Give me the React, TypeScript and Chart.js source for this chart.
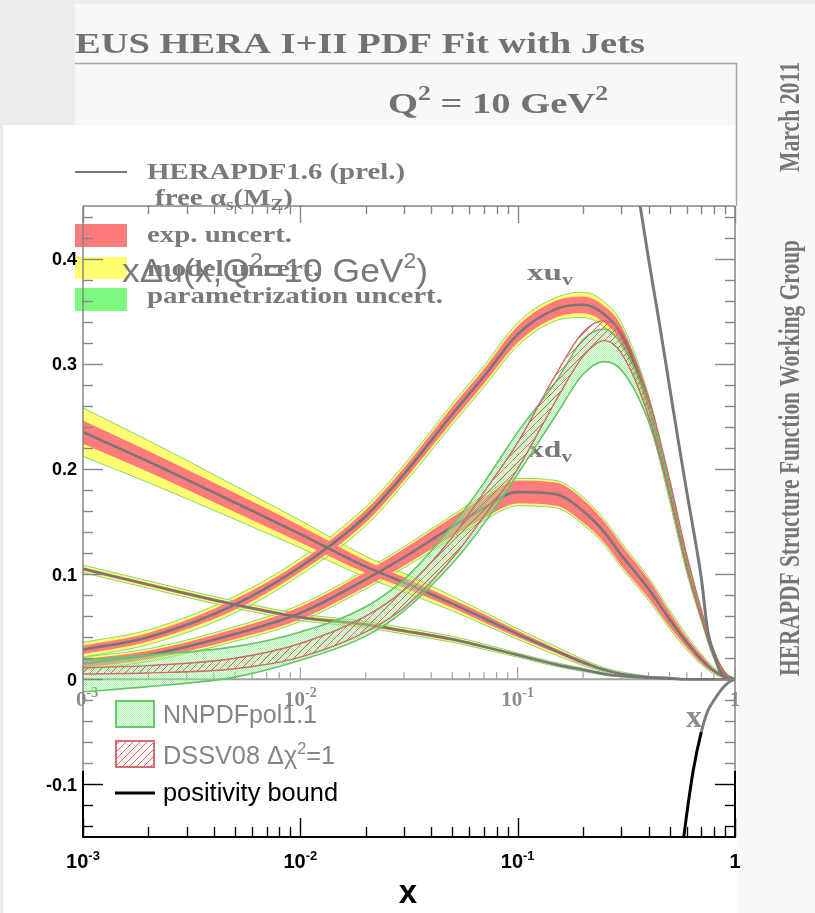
import React, { useEffect, useRef } from "react";
import { Chart, registerables } from "chart.js";
Chart.register(...registerables);

// ---------- data ----------
const X_GRID = [0.001, 0.002, 0.005, 0.01, 0.02, 0.03, 0.05, 0.07, 0.1, 0.15, 0.2, 0.25, 0.3, 0.4, 0.5, 0.6, 0.7, 0.8, 0.9, 1];

// HERAPDF1.6 xu_v
const XUV_CENTER = [0.028, 0.040, 0.071, 0.107, 0.155, 0.195, 0.252, 0.288, 0.328, 0.352, 0.356, 0.347, 0.328, 0.26, 0.178, 0.108, 0.06, 0.023, 0.005, 0];
const XUV_EXP = [0.004, 0.004, 0.005, 0.005, 0.006, 0.006, 0.007, 0.007, 0.008, 0.008, 0.008, 0.008, 0.008, 0.007, 0.006, 0.005, 0.004, 0.003, 0.001, 0];
const XUV_TOT = [0.007, 0.007, 0.008, 0.008, 0.009, 0.009, 0.010, 0.010, 0.011, 0.011, 0.012, 0.012, 0.011, 0.010, 0.009, 0.007, 0.005, 0.004, 0.002, 0];
// HERAPDF1.6 xd_v
const XDV_CENTER = [0.015, 0.023, 0.043, 0.063, 0.095, 0.116, 0.145, 0.163, 0.178, 0.176, 0.16, 0.14, 0.118, 0.086, 0.057, 0.035, 0.019, 0.008, 0.002, 0];
const XDV_EXP = [0.004, 0.004, 0.005, 0.006, 0.007, 0.008, 0.009, 0.010, 0.011, 0.011, 0.011, 0.010, 0.010, 0.009, 0.007, 0.005, 0.004, 0.002, 0.001, 0];
const XDV_TOT = [0.006, 0.006, 0.007, 0.008, 0.009, 0.010, 0.011, 0.012, 0.013, 0.013, 0.013, 0.012, 0.012, 0.011, 0.009, 0.007, 0.005, 0.003, 0.001, 0];
// HERAPDF1.6 sea (upper)
const SEAA_CENTER = [0.235, 0.207, 0.168, 0.138, 0.107, 0.092, 0.072, 0.058, 0.043, 0.027, 0.016, 0.009, 0.005, 0.002, 0.001, 0, 0, 0, 0, 0];
const SEAA_EXP = [0.011, 0.010, 0.009, 0.008, 0.006, 0.005, 0.004, 0.004, 0.003, 0.002, 0.002, 0.001, 0.001, 0.001, 0, 0, 0, 0, 0, 0];
const SEAA_TOT = [0.023, 0.020, 0.016, 0.013, 0.010, 0.009, 0.007, 0.006, 0.005, 0.004, 0.003, 0.002, 0.002, 0.001, 0.001, 0, 0, 0, 0, 0];
// HERAPDF1.6 sea (lower)
const SEAB_CENTER = [0.105, 0.090, 0.071, 0.059, 0.052, 0.046, 0.038, 0.031, 0.023, 0.014, 0.009, 0.005, 0.003, 0.0015, 0.0005, 0, 0, 0, 0, 0];
const SEAB_EXP = [0.0015, 0.0015, 0.0015, 0.0015, 0.0015, 0.0015, 0.0015, 0.0012, 0.001, 0.001, 0.0008, 0.0005, 0.0004, 0.0002, 0, 0, 0, 0, 0, 0];
const SEAB_TOT = [0.0035, 0.0035, 0.0033, 0.0032, 0.003, 0.003, 0.0028, 0.0025, 0.002, 0.0018, 0.0015, 0.001, 0.0008, 0.0005, 0.0002, 0, 0, 0, 0, 0];

// NNPDFpol1.1 xΔu band
const NNPDF_UP = [0.018, 0.023, 0.031, 0.045, 0.069, 0.095, 0.146, 0.187, 0.235, 0.283, 0.323, 0.333, 0.319, 0.261, 0.185, 0.114, 0.064, 0.026, 0.006, 0];
const NNPDF_LO = [-0.012, -0.007, 0.002, 0.018, 0.041, 0.065, 0.11, 0.148, 0.195, 0.251, 0.29, 0.302, 0.294, 0.245, 0.175, 0.108, 0.061, 0.024, 0.004, 0];
// DSSV08 Δχ²=1 band
const DSSV_UP = [0.011, 0.013, 0.020, 0.034, 0.060, 0.085, 0.135, 0.178, 0.225, 0.29, 0.33, 0.341, 0.33, 0.268, 0.19, 0.118, 0.066, 0.027, 0.006, 0];
const DSSV_LO = [0.005, 0.006, 0.010, 0.021, 0.045, 0.068, 0.115, 0.155, 0.2, 0.265, 0.307, 0.322, 0.31, 0.25, 0.176, 0.107, 0.059, 0.023, 0.004, 0];

// positivity bound (negative branch)
const POS_X = [0.56, 0.6, 0.642, 0.7, 0.75, 0.8, 0.85, 0.9, 0.95, 1];
const POS_Y = [-0.175, -0.128, -0.087, -0.05, -0.03, -0.02, -0.012, -0.006, -0.002, 0];
// steep grey curve (upper)
const UPPER_X = [0.36, 0.4, 0.45, 0.5, 0.55, 0.6, 0.65, 0.7, 0.75, 0.8, 0.85, 0.9, 0.95, 1];
const UPPER_Y = [0.46, 0.40, 0.337, 0.278, 0.225, 0.178, 0.137, 0.096, 0.045, 0.024, 0.008, 0.002, 0.0005, 0];

// axes
const X_DECADES = [0.001, 0.01, 0.1, 1];
const X_DECADE_EXP = ["-3", "-2", "-1", ""];
const Y_TICKS = [-0.1, 0, 0.1, 0.2, 0.3, 0.4];
const Y_TICK_LABELS = ["-0.1", "0", "0.1", "0.2", "0.3", "0.4"];
const OVERLAY_V = -0.087; // lower edge of the greyed overlay

const SANS = '"Liberation Sans", Arial, Helvetica, sans-serif';
const SERIF = '"Liberation Serif", "Times New Roman", "DejaVu Serif", serif';

type Seg = { t: string; s?: "sup" | "sub" };
type RichOpts = { size: number; fam: string; weight?: string; color: string; align?: "left" | "center" | "right"; width?: number };

function drawRich(ctx: CanvasRenderingContext2D, segs: Seg[], x: number, y: number, o: RichOpts) {
  const w = o.weight || "normal";
  const fontFor = (s?: string) => `${w} ${s ? Math.round(o.size * 0.65) : o.size}px ${o.fam}`;
  const widths: number[] = [];
  let total = 0;
  for (const seg of segs) {
    ctx.font = fontFor(seg.s);
    const m = ctx.measureText(seg.t).width;
    widths.push(m);
    total += m;
  }
  const sx = o.width ? o.width / total : 1;
  const dw = total * sx;
  const x0 = o.align === "center" ? x - dw / 2 : o.align === "right" ? x - dw : x;
  ctx.save();
  ctx.translate(x0, y);
  ctx.scale(sx, 1);
  ctx.fillStyle = o.color;
  ctx.textAlign = "left";
  ctx.textBaseline = "alphabetic";
  let cx = 0;
  segs.forEach((seg, i) => {
    ctx.font = fontFor(seg.s);
    const dy = seg.s === "sup" ? -o.size * 0.42 : seg.s === "sub" ? o.size * 0.22 : 0;
    ctx.fillText(seg.t, cx, dy);
    cx += widths[i];
  });
  ctx.restore();
}

function line(ctx: CanvasRenderingContext2D, x1: number, y1: number, x2: number, y2: number) {
  ctx.beginPath();
  ctx.moveTo(x1, y1);
  ctx.lineTo(x2, y2);
  ctx.stroke();
}

function makeDots(): CanvasPattern {
  const c = document.createElement("canvas");
  c.width = 2;
  c.height = 2;
  const g = c.getContext("2d")!;
  g.fillStyle = "rgba(110,232,110,0.6)";
  g.fillRect(0, 0, 1, 1);
  g.fillRect(1, 1, 1, 1);
  g.fillStyle = "rgba(215,255,215,0.35)";
  g.fillRect(1, 0, 1, 1);
  g.fillRect(0, 1, 1, 1);
  return g.createPattern(c, "repeat")!;
}

function makeHatch(): CanvasPattern {
  const c = document.createElement("canvas");
  c.width = 7;
  c.height = 7;
  const g = c.getContext("2d")!;
  g.strokeStyle = "rgba(235,75,75,0.9)";
  g.lineWidth = 1;
  g.beginPath();
  g.moveTo(0, 7);
  g.lineTo(7, 0);
  g.moveTo(-2, 2);
  g.lineTo(2, -2);
  g.moveTo(5, 9);
  g.lineTo(9, 5);
  g.stroke();
  return g.createPattern(c, "repeat")!;
}

const pts = (xs: number[], ys: number[]) => xs.map((x, i) => ({ x, y: ys[i] }));

function band(xs: number[], up: number[], lo: number[], fill: any, border: string, bw: number, order: number) {
  return [
    { data: pts(xs, up), fill: "+1", backgroundColor: fill, borderColor: border, borderWidth: bw, order },
    { data: pts(xs, lo), fill: false, borderColor: border, borderWidth: bw, order: order - 0.5 },
  ];
}

function heraBands(center: number[], exp: number[], tot: number[]) {
  const add = (a: number[], s: number) => center.map((c, i) => c + s * a[i]);
  return {
    tot: band(X_GRID, add(tot, 1), add(tot, -1), "rgb(255,255,112)", "rgb(130,215,120)", 1, 60),
    exp: band(X_GRID, add(exp, 1), add(exp, -1), "rgb(255,124,124)", "rgba(0,0,0,0)", 0, 50),
    center: { data: pts(X_GRID, center), fill: false, borderColor: "rgb(118,118,118)", borderWidth: 2.5, order: 45 },
  };
}

function makePlugin(dots: CanvasPattern, hatch: CanvasPattern) {
  return {
    id: "decor",
    beforeDraw(chart: any) {
      const { ctx, chartArea: ca, scales } = chart;
      const xs = scales.x, ys = scales.y;
      ctx.save();
      ctx.fillStyle = "#ececec";
      ctx.fillRect(0, 0, chart.width, chart.height);
      ctx.fillStyle = "#f8f8f8";
      ctx.fillRect(75, 4, chart.width - 75, chart.height - 4);
      ctx.fillStyle = "#ffffff";
      ctx.fillRect(3, 125, 734, chart.height - 125);

      // HERAPDF frame
      ctx.strokeStyle = "#a6a6a6";
      ctx.lineWidth = 1.5;
      line(ctx, 75, 63.5, 737, 63.5);
      line(ctx, 736.5, 63, 736.5, ca.top);

      const G = "#727272";
      drawRich(ctx, [{ t: "EUS HERA I+II PDF Fit with Jets" }], 75, 53, { size: 30, fam: SERIF, weight: "bold", color: G, width: 570 });
      drawRich(ctx, [{ t: "Q" }, { t: "2", s: "sup" }, { t: " = 10 GeV" }, { t: "2", s: "sup" }], 388, 113, { size: 30, fam: SERIF, weight: "bold", color: G, width: 220 });

      const rot = (bx: number, cy: number, text: string, width: number) => {
        ctx.save();
        ctx.translate(bx, cy);
        ctx.rotate(-Math.PI / 2);
        drawRich(ctx, [{ t: text }], 0, 0, { size: 30, fam: SERIF, weight: "bold", color: "#767676", align: "center", width });
        ctx.restore();
      };
      rot(799, 117, "March 2011", 110);
      rot(799, 458, "HERAPDF Structure Function Working Group", 436);

      // HERAPDF legend
      ctx.strokeStyle = "#777";
      ctx.lineWidth = 2;
      line(ctx, 75, 172, 127, 172);
      const LG = "#7a7a7a";
      drawRich(ctx, [{ t: "HERAPDF1.6 (prel.)" }], 147, 179, { size: 24, fam: SERIF, weight: "bold", color: LG, width: 258 });
      drawRich(ctx, [{ t: "free \u03b1" }, { t: "s", s: "sub" }, { t: "(M" }, { t: "Z", s: "sub" }, { t: ")" }], 155, 205, { size: 24, fam: SERIF, weight: "bold", color: LG, width: 138 });
      ctx.fillStyle = "rgb(255,124,124)";
      ctx.fillRect(75, 224, 52, 23);
      ctx.fillStyle = "rgb(255,255,112)";
      ctx.fillRect(75, 257, 52, 22);
      ctx.fillStyle = "rgb(125,250,125)";
      ctx.fillRect(75, 288, 52, 23);
      drawRich(ctx, [{ t: "exp. uncert." }], 147, 242, { size: 24, fam: SERIF, weight: "bold", color: LG, width: 145 });
      drawRich(ctx, [{ t: "model uncert." }], 147, 276, { size: 24, fam: SERIF, weight: "bold", color: LG, width: 173 });
      drawRich(ctx, [{ t: "parametrization uncert." }], 147, 303, { size: 24, fam: SERIF, weight: "bold", color: LG, width: 296 });

      // curve labels
      drawRich(ctx, [{ t: "xu" }, { t: "v", s: "sub" }], 527, 280, { size: 24, fam: SERIF, weight: "bold", color: LG, width: 46 });
      drawRich(ctx, [{ t: "xd" }, { t: "v", s: "sub" }], 528, 457, { size: 24, fam: SERIF, weight: "bold", color: LG, width: 44 });

      // HERAPDF x axis (at y = 0)
      const y0 = ys.getPixelForValue(0);
      ctx.strokeStyle = "#a0a0a0";
      ctx.lineWidth = 2;
      line(ctx, ca.left, y0, ca.right, y0);
      ctx.lineWidth = 1.2;
      for (let d = -3; d <= 0; d++) {
        const px = xs.getPixelForValue(Math.pow(10, d));
        line(ctx, px, y0, px, y0 - 12);
        if (d < 0) {
          for (let m = 2; m <= 9; m++) {
            const p2 = xs.getPixelForValue(m * Math.pow(10, d));
            line(ctx, p2, y0, p2, y0 - 7);
          }
        }
      }
      const HG = "#8c8c8c";
      drawRich(ctx, [{ t: "0" }, { t: "-3", s: "sup" }], 76, 706, { size: 21, fam: SERIF, weight: "bold", color: HG });
      drawRich(ctx, [{ t: "10" }, { t: "-2", s: "sup" }], xs.getPixelForValue(0.01), 706, { size: 21, fam: SERIF, weight: "bold", color: HG, align: "center" });
      drawRich(ctx, [{ t: "10" }, { t: "-1", s: "sup" }], xs.getPixelForValue(0.1), 706, { size: 21, fam: SERIF, weight: "bold", color: HG, align: "center" });
      drawRich(ctx, [{ t: "1" }], xs.getPixelForValue(1), 706, { size: 21, fam: SERIF, weight: "bold", color: HG, align: "center" });
      drawRich(ctx, [{ t: "x" }], 694, 727, { size: 32, fam: SERIF, weight: "bold", color: HG, align: "center" });
      ctx.restore();
    },
    afterDatasetsDraw(chart: any) {
      const { ctx, chartArea: ca, scales } = chart;
      const xs = scales.x, ys = scales.y;
      const ov = ys.getPixelForValue(OVERLAY_V);
      const col = (py: number) => (py >= ov ? "#000000" : "#858585");
      ctx.save();
      ctx.lineCap = "butt";
      // frame
      ctx.lineWidth = 1.5;
      ctx.strokeStyle = "#858585";
      line(ctx, ca.left, ca.top, ca.right, ca.top);
      line(ctx, ca.left, ca.top, ca.left, ov);
      line(ctx, ca.right, ca.top, ca.right, ov);
      ctx.lineWidth = 2;
      ctx.strokeStyle = "#000";
      line(ctx, ca.left, ov, ca.left, ca.bottom);
      line(ctx, ca.right, ov, ca.right, ca.bottom);
      line(ctx, ca.left - 1, ca.bottom, ca.right + 1, ca.bottom);

      // y ticks
      ctx.lineWidth = 1.4;
      for (let i = -7; i <= 22; i++) {
        const v = i * 0.02;
        const py = Math.round(ys.getPixelForValue(v)) + 0.5;
        const len = i % 5 === 0 ? 20 : 10;
        ctx.strokeStyle = col(py);
        line(ctx, ca.left, py, ca.left + len, py);
        line(ctx, ca.right, py, ca.right - len, py);
      }
      // x ticks
      for (let d = -3; d <= 0; d++) {
        const px = Math.round(xs.getPixelForValue(Math.pow(10, d))) + 0.5;
        ctx.strokeStyle = "#000";
        line(ctx, px, ca.bottom, px, ca.bottom - 19);
        ctx.strokeStyle = "#858585";
        line(ctx, px, ca.top, px, ca.top + 17);
        if (d < 0) {
          for (let m = 2; m <= 9; m++) {
            const p2 = Math.round(xs.getPixelForValue(m * Math.pow(10, d))) + 0.5;
            ctx.strokeStyle = "#000";
            line(ctx, p2, ca.bottom, p2, ca.bottom - 10);
            ctx.strokeStyle = "#858585";
            line(ctx, p2, ca.top, p2, ca.top + 8);
          }
        }
      }
      // tick labels
      Y_TICKS.forEach((v, i) => {
        const py = ys.getPixelForValue(v);
        drawRich(ctx, [{ t: Y_TICK_LABELS[i] }], ca.left - 6, py + 6.5, { size: 18, fam: SANS, weight: "bold", color: "#000", align: "right" });
      });
      X_DECADES.forEach((v, i) => {
        const px = xs.getPixelForValue(v);
        const segs: Seg[] = X_DECADE_EXP[i] ? [{ t: "10" }, { t: X_DECADE_EXP[i], s: "sup" }] : [{ t: "1" }];
        drawRich(ctx, segs, px, 868, { size: 20, fam: SANS, weight: "bold", color: "#000", align: "center" });
      });
      drawRich(ctx, [{ t: "x" }], 408, 903, { size: 33, fam: SANS, weight: "bold", color: "#000", align: "center" });

      // title
      drawRich(
        ctx,
        [{ t: "x\u0394u(x,Q" }, { t: "2", s: "sup" }, { t: "=10 GeV" }, { t: "2", s: "sup" }, { t: ")" }],
        122, 282,
        { size: 34, fam: SANS, color: "#7a7a7a", width: 306 }
      );

      // legend
      ctx.fillStyle = "#fff";
      ctx.fillRect(115, 700, 40, 28);
      ctx.fillStyle = dots;
      ctx.fillRect(115, 700, 40, 28);
      ctx.strokeStyle = "rgb(105,200,105)";
      ctx.lineWidth = 2;
      ctx.strokeRect(116, 701, 38, 26);
      ctx.fillStyle = "#fff";
      ctx.fillRect(115, 740, 40, 28);
      ctx.fillStyle = hatch;
      ctx.fillRect(115, 740, 40, 28);
      ctx.strokeStyle = "rgb(210,110,110)";
      ctx.strokeRect(116, 741, 38, 26);
      ctx.strokeStyle = "#000";
      ctx.lineWidth = 3;
      line(ctx, 115, 793, 155, 793);
      drawRich(ctx, [{ t: "NNPDFpol1.1" }], 163, 723, { size: 25, fam: SANS, color: "#858585", width: 154 });
      drawRich(ctx, [{ t: "DSSV08 \u0394\u03c7" }, { t: "2", s: "sup" }, { t: "=1" }], 163, 764, { size: 25, fam: SANS, color: "#858585", width: 172 });
      drawRich(ctx, [{ t: "positivity bound" }], 163, 801, { size: 25, fam: SANS, color: "#000", width: 175 });
      ctx.restore();
    },
  };
}

export default function App() {
  const ref = useRef<HTMLCanvasElement>(null);
  useEffect(() => {
    const canvas = ref.current!;
    const dots = makeDots();
    const hatch = makeHatch();
    const xu = heraBands(XUV_CENTER, XUV_EXP, XUV_TOT);
    const xd = heraBands(XDV_CENTER, XDV_EXP, XDV_TOT);
    const sa = heraBands(SEAA_CENTER, SEAA_EXP, SEAA_TOT);
    const sb = heraBands(SEAB_CENTER, SEAB_EXP, SEAB_TOT);
    const datasets: any[] = [
      ...sa.tot, ...sb.tot, ...xu.tot, ...xd.tot,
      ...sa.exp, ...sb.exp, ...xu.exp, ...xd.exp,
      sa.center, sb.center, xu.center, xd.center,
      ...band(X_GRID, NNPDF_UP, NNPDF_LO, dots, "rgb(100,198,100)", 1.6, 30),
      ...band(X_GRID, DSSV_UP, DSSV_LO, hatch, "rgb(205,105,105)", 1.4, 20),
      {
        data: pts(UPPER_X, UPPER_Y), fill: false, borderColor: "rgb(120,120,120)", borderWidth: 3, order: 10,
      },
      {
        data: pts(POS_X, POS_Y), fill: false, borderWidth: 3, order: 10, borderColor: "#000",
        segment: { borderColor: (c: any) => (c.p0.parsed.y < OVERLAY_V + 0.001 ? "#000000" : "rgb(125,125,125)") },
      },
    ];
    const chart = new Chart(canvas, {
      type: "line",
      data: { datasets },
      options: {
        responsive: false,
        animation: false,
        events: [],
        layout: { padding: { left: 83, right: 80, top: 206, bottom: 76 } },
        elements: { point: { radius: 0 }, line: { cubicInterpolationMode: "monotone" } },
        scales: {
          x: { type: "logarithmic", min: 0.001, max: 1, display: false },
          y: { type: "linear", min: -0.15, max: 0.45, display: false },
        },
        plugins: { legend: { display: false }, tooltip: { enabled: false } },
      },
      plugins: [makePlugin(dots, hatch)],
    } as any);
    return () => chart.destroy();
  }, []);
  return (
    <div style={{ position: "absolute", left: 0, top: 0, width: 815, height: 913 }}>
      <canvas ref={ref} width={815} height={913} style={{ display: "block", width: 815, height: 913 }} />
    </div>
  );
}
